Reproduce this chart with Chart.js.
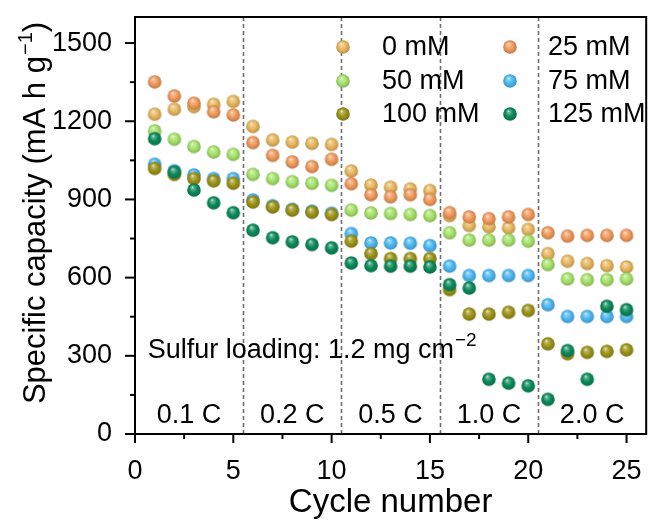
<!DOCTYPE html>
<html><head><meta charset="utf-8">
<script src="https://cdn.jsdelivr.net/npm/chart.js@4.4.1/dist/chart.umd.min.js"></script>
<style>html,body{margin:0;padding:0;background:#fff;}#wrap{width:654px;height:532px;}</style>
</head><body><div id="wrap"><canvas id="c" width="654" height="532"></canvas></div>
<script>
// ---------- data ----------
const cycles = [1,2,3,4,5,6,7,8,9,10,11,12,13,14,15,16,17,18,19,20,21,22,23,24,25];
const cap0   = [1227,1246,1256,1265,1276, 1180,1128,1120,1115,1111, 1009,955,947,940,934, 838,800,795,791,785, 692,663,654,646,641];
const cap25  = [1351,1297,1269,1236,1224, 1118,1069,1044,1026,1054, 960,918,910,918,900, 849,833,826,833,842, 772,759,762,762,762];
const cap50  = [1163,1131,1103,1082,1073, 996,980,968,962,954, 859,848,846,842,838, 772,744,744,744,740, 650,595,592,592,595];
const cap75  = [1035,1010,994,980,980, 898,876,862,855,847, 769,733,733,732,723, 644,608,608,608,608, 496,451,451,451,451];
const cap100 = [1019,996,980,971,962, 890,871,859,851,842, 740,692,673,673,673, 554,460,460,467,474, 346,308,313,317,323];
const cap125 = [1133,1005,936,887,849, 782,753,737,727,714, 656,646,644,644,641, 573,560,210,195,185, 133,320,210,490,477];
const seriesLabels = ['0 mM','25 mM','50 mM','75 mM','100 mM','125 mM'];
const seriesColors = ['#E9B85F','#F29A5C','#A6E36A','#4DB8F2','#9C9417','#0B8A5B'];
const seriesData = [cap0, cap25, cap50, cap75, cap100, cap125];
const yTicks = [0,300,600,900,1200,1500];
const xTicks = [0,5,10,15,20,25];
const rateLabels = ['0.1 C','0.2 C','0.5 C','1.0 C','2.0 C'];
const rateCenters = [2.75, 8, 13, 18, 23.25];
const rateBounds = [5.5, 10.5, 15.5, 20.5];

const FONT = '"Liberation Sans", Arial, Helvetica, sans-serif';

function hexToRgb(h){h=h.replace('#','');return [parseInt(h.substr(0,2),16),parseInt(h.substr(2,2),16),parseInt(h.substr(4,2),16)];}
function shade(hex, amt){
  const c = hexToRgb(hex);
  const t = amt>0?255:0, a=Math.abs(amt);
  return 'rgb('+c.map(v=>Math.round(v+(t-v)*a)).join(',')+')';
}
function makeSphere(hex, r){
  const s = Math.ceil(2*r+2);
  const cv = document.createElement('canvas'); cv.width=s; cv.height=s;
  const g = cv.getContext('2d'); const c = s/2;
  const grad = g.createRadialGradient(c-0.25*r, c-0.45*r, 0, c, c, r*1.05);
  grad.addColorStop(0, shade(hex,0.9));
  grad.addColorStop(0.2, shade(hex,0.35));
  grad.addColorStop(0.55, hex);
  grad.addColorStop(1, shade(hex,-0.22));
  g.fillStyle=grad; g.beginPath(); g.arc(c,c,r,0,Math.PI*2); g.fill();
  return cv;
}
const R = 6.8;
const spheres = seriesColors.map(c=>makeSphere(c,R));

const decor = {
  id:'decor',
  beforeDatasetsDraw(chart){
    const {ctx, chartArea:a, scales:{x}} = chart;
    ctx.save();
    ctx.strokeStyle='#6e6e6e'; ctx.lineWidth=1.6; ctx.setLineDash([4,3]);
    rateBounds.forEach(b=>{const px=Math.round(x.getPixelForValue(b))+0.5;ctx.beginPath();ctx.moveTo(px,a.top);ctx.lineTo(px,a.bottom);ctx.stroke();});
    ctx.restore();
  },
  afterDatasetsDraw(chart){
    const {ctx, chartArea:a, scales:{x,y}} = chart;
    ctx.save();
    ctx.strokeStyle='#000'; ctx.lineWidth=2; ctx.setLineDash([]);
    ctx.strokeRect(a.left, a.top, a.right-a.left, a.bottom-a.top);
    for(let v=0; v<=1600; v+=150){
      const major = v%300===0; const py=y.getPixelForValue(v);
      ctx.beginPath(); ctx.moveTo(a.left,py); ctx.lineTo(a.left-(major?10:5),py); ctx.stroke();
    }
    for(let v=0; v<=26; v+=2.5){
      const major = v%5===0; const px=x.getPixelForValue(v);
      ctx.beginPath(); ctx.moveTo(px,a.bottom); ctx.lineTo(px,a.bottom+(major?9:5)); ctx.stroke();
    }
    ctx.fillStyle='#000';
    ctx.font='27px '+FONT; ctx.textAlign='center'; ctx.textBaseline='middle';
    rateLabels.forEach((t,i)=>ctx.fillText(t, x.getPixelForValue(rateCenters[i]), y.getPixelForValue(72)));
    ctx.textAlign='left'; ctx.textBaseline='alphabetic';
    const sx = x.getPixelForValue(0.65), sy = y.getPixelForValue(331)+10;
    const main='Sulfur loading: 1.2 mg cm';
    ctx.fillText(main, sx, sy);
    const w = ctx.measureText(main).width;
    ctx.font='19px '+FONT; ctx.fillText('\u22122', sx+w+1, sy-12);
    ctx.font='27px '+FONT; ctx.textBaseline='middle';
    const colsM=[343,510], colsT=[382,548], rows=[47,81,114];
    seriesLabels.forEach((lab,i)=>{
      const col=i%2, row=Math.floor(i/2);
      const img=spheres[i];
      ctx.drawImage(img, colsM[col]-img.width/2, rows[row]-img.height/2);
      ctx.fillText(lab, colsT[col], rows[row]+1);
    });
    ctx.textAlign='center'; ctx.textBaseline='alphabetic'; ctx.font='33px '+FONT;
    ctx.fillText('Cycle number', (a.left+a.right)/2, 512);
    ctx.translate(45, 213); ctx.rotate(-Math.PI/2);
    ctx.font='31px '+FONT; ctx.textAlign='left';
    const t1='Specific capacity (mA h g', t2='\u22121', t3=')';
    const w1=ctx.measureText(t1).width, w3=ctx.measureText(t3).width;
    ctx.font='20px '+FONT; const w2=ctx.measureText(t2).width;
    let sx0=-(w1+w2+w3+1)/2;
    ctx.font='31px '+FONT; ctx.fillText(t1, sx0, 0);
    ctx.font='20px '+FONT; ctx.fillText(t2, sx0+w1+1, -13);
    ctx.font='31px '+FONT; ctx.fillText(t3, sx0+w1+w2+1, 0);
    ctx.restore();
  }
};

const chart = new Chart(document.getElementById('c'), {
  type:'scatter',
  data:{ datasets: seriesLabels.map((lab,i)=>({
    label:lab,
    data: cycles.map((c,j)=>({x:c, y:seriesData[i][j]})),
    pointStyle: spheres[i], pointRadius:R, pointHoverRadius:R,
    backgroundColor: seriesColors[i], borderColor: seriesColors[i],
    showLine:false, order: seriesLabels.length - i
  }))},
  options:{
    responsive:false, animation:false, devicePixelRatio:1,
    layout:{padding:{top:17,right:1,left:0,bottom:0}},
    plugins:{legend:{display:false}, tooltip:{enabled:false}},
    scales:{
      x:{type:'linear', min:0, max:26,
        afterBuildTicks:s=>{s.ticks=xTicks.map(v=>({value:v}));},
        afterFit:s=>{s.height=98; s.paddingLeft=0; s.paddingRight=0;},
        grid:{display:false}, border:{display:false},
        ticks:{padding:13, color:'#000', font:{family:FONT,size:27}, maxRotation:0, autoSkip:false, callback:v=>String(v)}},
      y:{type:'linear', min:0, max:1600,
        afterBuildTicks:s=>{s.ticks=yTicks.map(v=>({value:v}));},
        afterFit:s=>{s.width=135; s.paddingTop=0; s.paddingBottom=0;},
        grid:{display:false}, border:{display:false},
        ticks:{padding:15, color:'#000', font:{family:FONT,size:27}, autoSkip:false, callback:v=>String(v)}}
    }
  },
  plugins:[decor]
});
</script></body></html>
